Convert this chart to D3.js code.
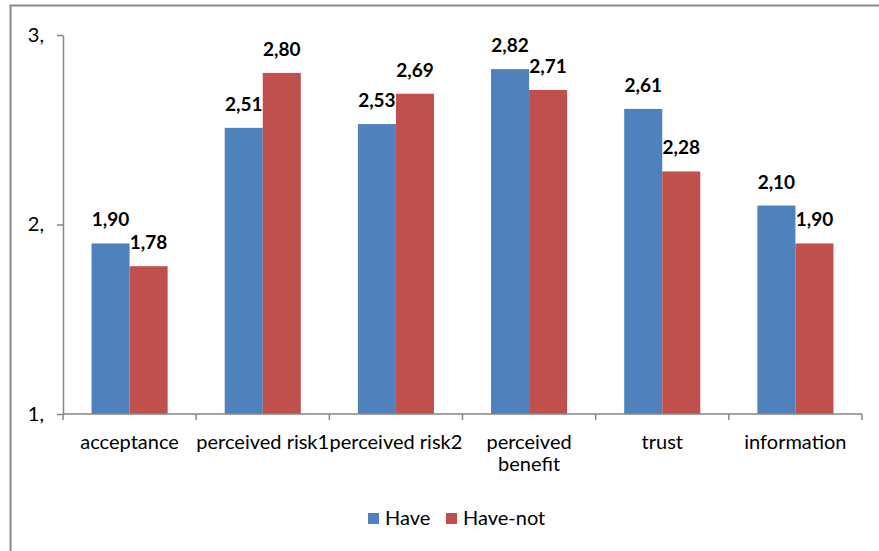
<!DOCTYPE html>
<html>
<head>
<meta charset="utf-8">
<script src="https://cdn.jsdelivr.net/npm/d3@7/dist/d3.min.js"></script>
<style>
  html, body { margin: 0; padding: 0; background: #fff; }
  svg { display: block; }
  text { font-family: Lato, "Open Sans", sans-serif; fill: #000; }
</style>
</head>
<body>
<svg id="chart" width="879" height="551"></svg>
<script>
// Mean scores per construct, for respondents who have / have not
const categories = ["acceptance", "perceived risk1", "perceived risk2", "perceived\nbenefit", "trust", "information"];
const seriesNames = ["Have", "Have-not"];
const haveValues = [1.90, 2.51, 2.53, 2.82, 2.61, 2.10];
const haveNotValues = [1.78, 2.80, 2.69, 2.71, 2.28, 1.90];
const yTicks = [1, 2, 3];
const colors = ["#4F81BD", "#C0504D"];

const svg = d3.select("#chart");

// outer frame (continues past the right and bottom edges)
svg.append("rect")
  .attr("x", 10.5).attr("y", 5.5)
  .attr("width", 900).attr("height", 600)
  .attr("fill", "none").attr("stroke", "#8a8a8a").attr("stroke-width", 2);

const plot = { left: 63, right: 862, top: 35, bottom: 414 };

const x = d3.scaleBand().domain(categories).range([plot.left, plot.right]).padding(0);
const xInner = d3.scaleBand().domain(seriesNames).range([0, x.bandwidth()])
  .paddingInner(0).paddingOuter(0.75);
const y = d3.scaleLinear().domain([1, 3]).range([plot.bottom, plot.top]);

const rows = categories.map((c, i) => ({
  category: c,
  values: [
    { name: seriesNames[0], value: haveValues[i], color: colors[0] },
    { name: seriesNames[1], value: haveNotValues[i], color: colors[1] }
  ]
}));

// bars
const groups = svg.append("g").selectAll("g").data(rows).join("g")
  .attr("transform", d => `translate(${x(d.category)},0)`);

groups.selectAll("rect").data(d => d.values).join("rect")
  .attr("x", d => xInner(d.name))
  .attr("y", d => y(d.value))
  .attr("width", xInner.bandwidth())
  .attr("height", d => y(1) - y(d.value))
  .attr("fill", d => d.color);

// value labels
const fmt = v => d3.format(".2f")(v).replace(".", ",");
groups.selectAll("text.val").data(d => d.values).join("text")
  .attr("class", "val")
  .attr("x", d => xInner(d.name) + xInner.bandwidth() / 2)
  .attr("y", d => y(d.value) - 17)
  .attr("text-anchor", "middle")
  .style("font-weight", "bold")
  .style("font-size", "19px")
  .text(d => fmt(d.value));

// y axis
const yAxis = d3.axisLeft(y).tickValues(yTicks).tickSize(6).tickSizeOuter(0)
  .tickFormat(d => d + ",");
const yg = svg.append("g").attr("transform", `translate(${plot.left},0)`).call(yAxis);
yg.selectAll("path, line").attr("stroke", "#868686").attr("stroke-width", 1.5);
yg.selectAll("text").attr("x", -19).attr("dy", "0.32em")
  .style("font-size", "20px").style("font-family", "Lato, sans-serif");

// x axis: baseline with ticks at category boundaries
const xg = svg.append("g");
xg.append("line")
  .attr("x1", plot.left).attr("x2", plot.right)
  .attr("y1", y(1)).attr("y2", y(1))
  .attr("stroke", "#868686").attr("stroke-width", 1.5);
const bounds = categories.map(c => x(c)).concat([x.range()[1]]);
xg.selectAll("line.tick").data(bounds).join("line")
  .attr("class", "tick")
  .attr("x1", d => d).attr("x2", d => d)
  .attr("y1", y(1)).attr("y2", y(1) + 6)
  .attr("stroke", "#868686").attr("stroke-width", 1.5);

const xl = xg.selectAll("text").data(categories).join("text")
  .attr("text-anchor", "middle")
  .attr("x", d => x(d) + x.bandwidth() / 2)
  .attr("y", 449)
  .style("font-size", "20px");
xl.each(function (d) {
  const t = d3.select(this);
  d.split("\n").forEach((line, i) => {
    t.append("tspan")
      .attr("x", x(d) + x.bandwidth() / 2)
      .attr("dy", i === 0 ? 0 : 22)
      .text(line);
  });
});

// legend
const legend = svg.append("g");
const legendX = [368, 446];
seriesNames.forEach((name, i) => {
  legend.append("rect")
    .attr("x", legendX[i]).attr("y", 513)
    .attr("width", 11).attr("height", 11)
    .attr("fill", colors[i]);
  legend.append("text")
    .attr("x", legendX[i] + 17).attr("y", 525)
    .style("font-size", "20px")
    .text(name);
});
</script>
</body>
</html>
